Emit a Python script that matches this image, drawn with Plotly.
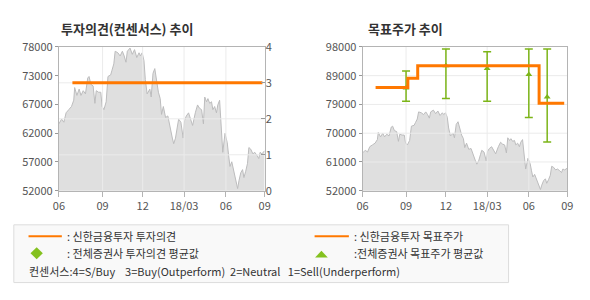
import plotly.graph_objects as go

# ---------------- data ----------------
PRICE_DATES = [
    "2017-06-01", "2017-06-07", "2017-06-12", "2017-06-17", "2017-06-23", "2017-06-29",
    "2017-07-04", "2017-07-06", "2017-07-11", "2017-07-16", "2017-07-20", "2017-07-25",
    "2017-07-30", "2017-08-04", "2017-08-07", "2017-08-11", "2017-08-16", "2017-08-20",
    "2017-08-23", "2017-08-28", "2017-09-02", "2017-09-05", "2017-09-09", "2017-09-14",
    "2017-09-18", "2017-09-24", "2017-09-27", "2017-10-01", "2017-10-04", "2017-10-10",
    "2017-10-15", "2017-10-20", "2017-10-24", "2017-10-28", "2017-10-31", "2017-11-06",
    "2017-11-11", "2017-11-16", "2017-11-21", "2017-11-26", "2017-11-29", "2017-12-03",
    "2017-12-07", "2017-12-10", "2017-12-14", "2017-12-20", "2017-12-23", "2017-12-27",
    "2017-12-31", "2018-01-03", "2018-01-08", "2018-01-12", "2018-01-15", "2018-01-19",
    "2018-01-24", "2018-01-29", "2018-02-03", "2018-02-08", "2018-02-11", "2018-02-15",
    "2018-02-19", "2018-02-22", "2018-02-27", "2018-03-04", "2018-03-07", "2018-03-11",
    "2018-03-16", "2018-03-21", "2018-03-25", "2018-03-31", "2018-04-05", "2018-04-09",
    "2018-04-14", "2018-04-18", "2018-04-21", "2018-04-25", "2018-04-28", "2018-05-02",
    "2018-05-06", "2018-05-09", "2018-05-13", "2018-05-17", "2018-05-20", "2018-05-24",
    "2018-05-27", "2018-05-31", "2018-06-05", "2018-06-10", "2018-06-13", "2018-06-16",
    "2018-06-20", "2018-06-26", "2018-06-29", "2018-07-03", "2018-07-06", "2018-07-10",
    "2018-07-14", "2018-07-17", "2018-07-21", "2018-07-25", "2018-07-28", "2018-08-01",
    "2018-08-06", "2018-08-10", "2018-08-15", "2018-08-19", "2018-08-22", "2018-08-26",
    "2018-09-01",
]
PRICE_VALUES = [
    64090, 64950, 64380, 66090, 66660, 67230,
    68370, 70650, 69230, 70370, 69230, 70080,
    69510, 72360, 72650, 71220, 70940, 67800,
    70080, 69800, 69800, 67230, 66660, 68080,
    72650, 72930, 73790, 74930, 77210, 76930,
    76360, 77210, 76360, 75220, 77210, 77780,
    76650, 77500, 76070, 76930, 76360, 76930,
    75500, 72080, 69510, 70370, 68940, 73220,
    74070, 72080, 69800, 68660, 65800, 67220,
    65230, 65520, 63230, 61520, 60500, 61520,
    63520, 64940, 64370, 61520, 64660, 65510,
    66080, 64660, 63800, 66080, 67510, 66940,
    66650, 64090, 68930, 68080, 68650, 67790,
    68080, 66650, 67220, 66080, 67510, 68360,
    63520, 58950, 62380, 60670, 58390, 56390,
    57240, 54960, 54390, 52400, 53820, 55250,
    55820, 54390, 55530, 56960, 59810, 59530,
    58670, 58950, 58390, 57820, 58950, 58670,
    59240,
]

OPINION_DATES = ["2017-07-01", "2018-08-27"]
OPINION_VALUES = [3, 3]

TARGET_DATES = ["2017-06-30", "2017-09-10", "2017-10-02", "2018-06-30", "2018-08-25"]
TARGET_VALUES = [85000, 88000, 92000, 80000, 80000]

CONS_DATES = ["2017-09-06", "2017-12-04", "2018-03-06", "2018-06-07", "2018-07-18"]
CONS_AVG = [84850, 92000, 91100, 89200, 82000]
CONS_HIGH = [90300, 97300, 96400, 97300, 97300]
CONS_LOW = [80600, 81500, 80600, 75450, 67560]

X_RANGE = ["2017-06-01", "2018-09-01"]
X_TICKS = ["2017-06-01", "2017-09-06", "2017-12-04", "2018-03-06", "2018-06-07", "2018-09-01"]
X_LABELS = ["06", "09", "12", "18/03", "06", "09"]

LEFT_Y_RANGE = [52000, 78000]
LEFT_Y_TICKS = [52000, 57200, 62400, 67600, 72800, 78000]
LEFT_Y_LABELS = ["52000", "57000", "62000", "67000", "73000", "78000"]
OPINION_RANGE = [0, 4]
OPINION_TICKS = [0, 1, 2, 3, 4]

RIGHT_Y_RANGE = [52000, 98000]
RIGHT_Y_TICKS = [52000, 61200, 70400, 79600, 88800, 98000]
RIGHT_Y_LABELS = ["52000", "61000", "70000", "79000", "89000", "98000"]

TITLE_LEFT = "투자의견(컨센서스) 추이"
TITLE_RIGHT = "목표주가 추이"
LEG_1L = ": 신한금융투자 투자의견"
LEG_2L = ": 전체증권사 투자의견 평균값"
LEG_1R = ": 신한금융투자 목표주가"
LEG_2R = ":전체증권사 목표주가 평균값"
LEG_3 = "컨센서스:4=S/Buy    3=Buy(Outperform)  2=Neutral   1=Sell(Underperform)"

# ---------------- style ----------------
W, H = 590, 300
ORANGE = "#ff7800"
GREEN = "#7cb518"
LEG_GREEN = "#84c11f"
GRID = "#ebebeb"
AREA_FILL = "#dfdfdf"
AREA_LINE = "#bcbcbd"
FRAME = "#b4b4b4"
TXT = "#555555"
FONT = "Noto Sans CJK KR, DejaVu Sans, sans-serif"


def px(x):
    return x / W


def py(y):
    return 1 - y / H


Y_DOM = [py(192), py(40)]
LEFT_DOM = [px(54), px(264)]
RIGHT_DOM = [px(364), px(573)]


def vgrid(ticks, yr):
    xs, ys = [], []
    for t in ticks[1:-1]:
        xs += [t, t, None]
        ys += [yr[0], yr[1], None]
    return xs, ys


def hgrid(ticks, xr):
    xs, ys = [], []
    for t in ticks[1:-1]:
        xs += [xr[0], xr[1], None]
        ys += [t, t, None]
    return xs, ys


fig = go.Figure()

# ---- left panel ----
fig.add_trace(go.Scatter(x=PRICE_DATES, y=PRICE_VALUES, mode="lines", fill="tozeroy",
                         fillcolor=AREA_FILL, line=dict(color=AREA_LINE, width=1),
                         xaxis="x", yaxis="y", hoverinfo="skip"))
gx, gy = vgrid(X_TICKS, LEFT_Y_RANGE)
fig.add_trace(go.Scatter(x=gx, y=gy, mode="lines", line=dict(color=GRID, width=1),
                         xaxis="x", yaxis="y", hoverinfo="skip"))
gx, gy = hgrid(OPINION_TICKS, X_RANGE)
fig.add_trace(go.Scatter(x=gx, y=gy, mode="lines", line=dict(color=GRID, width=1),
                         xaxis="x", yaxis="y2", hoverinfo="skip"))
fig.add_trace(go.Scatter(x=OPINION_DATES, y=OPINION_VALUES, mode="lines",
                         line=dict(color=ORANGE, width=3), xaxis="x", yaxis="y2"))

# ---- right panel ----
fig.add_trace(go.Scatter(x=PRICE_DATES, y=PRICE_VALUES, mode="lines", fill="tozeroy",
                         fillcolor=AREA_FILL, line=dict(color=AREA_LINE, width=1),
                         xaxis="x2", yaxis="y3", hoverinfo="skip"))
gx, gy = vgrid(X_TICKS, RIGHT_Y_RANGE)
fig.add_trace(go.Scatter(x=gx, y=gy, mode="lines", line=dict(color=GRID, width=1),
                         xaxis="x2", yaxis="y3", hoverinfo="skip"))
gx, gy = hgrid(RIGHT_Y_TICKS, X_RANGE)
fig.add_trace(go.Scatter(x=gx, y=gy, mode="lines", line=dict(color=GRID, width=1),
                         xaxis="x2", yaxis="y3", hoverinfo="skip"))
fig.add_trace(go.Scatter(
    x=CONS_DATES, y=CONS_AVG, mode="markers",
    marker=dict(symbol="triangle-up", size=6, color=GREEN),
    error_y=dict(type="data", symmetric=False,
                 array=[h - a for h, a in zip(CONS_HIGH, CONS_AVG)],
                 arrayminus=[a - l for a, l in zip(CONS_AVG, CONS_LOW)],
                 color=GREEN, thickness=1.5, width=4),
    xaxis="x2", yaxis="y3"))
fig.add_trace(go.Scatter(x=TARGET_DATES, y=TARGET_VALUES, mode="lines",
                         line=dict(color=ORANGE, width=3, shape="hv"),
                         xaxis="x2", yaxis="y3"))

tickfont = dict(family=FONT, size=11, color=TXT)
xcommon = dict(type="date", range=X_RANGE, tickvals=X_TICKS, ticktext=X_LABELS,
               showgrid=False, zeroline=False, showline=True, mirror=True,
               linecolor=FRAME, linewidth=1, ticks="outside", ticklen=5,
               tickcolor="#b4b4b4", tickfont=tickfont, fixedrange=True)

fig.update_layout(
    width=W, height=H, margin=dict(l=0, r=0, t=0, b=0),
    paper_bgcolor="white", plot_bgcolor="white", showlegend=False,
    font=dict(family=FONT, color="#333333"),
    xaxis=dict(domain=LEFT_DOM, anchor="y", **xcommon),
    yaxis=dict(domain=Y_DOM, anchor="x", range=LEFT_Y_RANGE, tickvals=LEFT_Y_TICKS,
               ticktext=LEFT_Y_LABELS, showgrid=False, zeroline=False, showline=True,
               mirror=True, linecolor=FRAME, ticks="outside", ticklen=3,
               tickcolor="#999999", tickfont=tickfont),
    yaxis2=dict(overlaying="y", side="right", anchor="x", range=OPINION_RANGE,
                tickvals=OPINION_TICKS, showgrid=False, zeroline=False,
                showline=False, ticks="inside", ticklen=4, tickcolor="#999999",
                tickfont=tickfont),
    xaxis2=dict(domain=RIGHT_DOM, anchor="y3", **xcommon),
    yaxis3=dict(domain=Y_DOM, anchor="x2", range=RIGHT_Y_RANGE, tickvals=RIGHT_Y_TICKS,
                ticktext=RIGHT_Y_LABELS, showgrid=False, zeroline=False, showline=True,
                mirror=True, linecolor=FRAME, ticks="outside", ticklen=3,
                tickcolor="#999999", tickfont=tickfont),
)

# titles
titlefont = dict(family=FONT, size=13, color="#333333")
fig.add_annotation(text="<b>" + TITLE_LEFT + "</b>", x=px(54), y=py(20.5), xref="paper",
                   yref="paper", xanchor="left", yanchor="middle", showarrow=False,
                   font=titlefont)
fig.add_annotation(text="<b>" + TITLE_RIGHT + "</b>", x=px(367), y=py(20.5), xref="paper",
                   yref="paper", xanchor="left", yanchor="middle", showarrow=False,
                   font=titlefont)

# legend box
fig.add_shape(type="rect", xref="paper", yref="paper", x0=px(8), x1=px(513),
              y0=py(289), y1=py(228), fillcolor="#f9f9f9", line=dict(color="#dcdcdc", width=1),
              layer="below")
fig.add_shape(type="line", xref="paper", yref="paper", x0=px(23), x1=px(57),
              y0=py(240), y1=py(240), line=dict(color=ORANGE, width=2))
fig.add_shape(type="line", xref="paper", yref="paper", x0=px(315), x1=px(350),
              y0=py(240), y1=py(240), line=dict(color=ORANGE, width=2))
# legend diamond and triangle symbols
fig.add_shape(type="path", xref="paper", yref="paper",
              path=f"M {px(25)} {py(258)} L {px(31.3)} {py(251.7)} L {px(37.6)} {py(258)} "
                   f"L {px(31.3)} {py(264.3)} Z",
              fillcolor=LEG_GREEN, line=dict(width=0))
fig.add_shape(type="path", xref="paper", yref="paper",
              path=f"M {px(315.5)} {py(262.5)} L {px(328.5)} {py(262.5)} L {px(322)} {py(255.5)} Z",
              fillcolor=LEG_GREEN, line=dict(width=0))

legfont = dict(family=FONT, size=11, color="#333333")
for txt, x, y in [(LEG_1L, 60, 240), (LEG_2L, 60, 258), (LEG_1R, 353, 240),
                  (LEG_2R, 353, 258), (LEG_3.replace(" ", "\u00a0"), 21, 277)]:
    fig.add_annotation(text=txt, x=px(x), y=py(y), xref="paper", yref="paper",
                       xanchor="left", yanchor="middle", showarrow=False, font=legfont)

fig.write_html("out.html")
